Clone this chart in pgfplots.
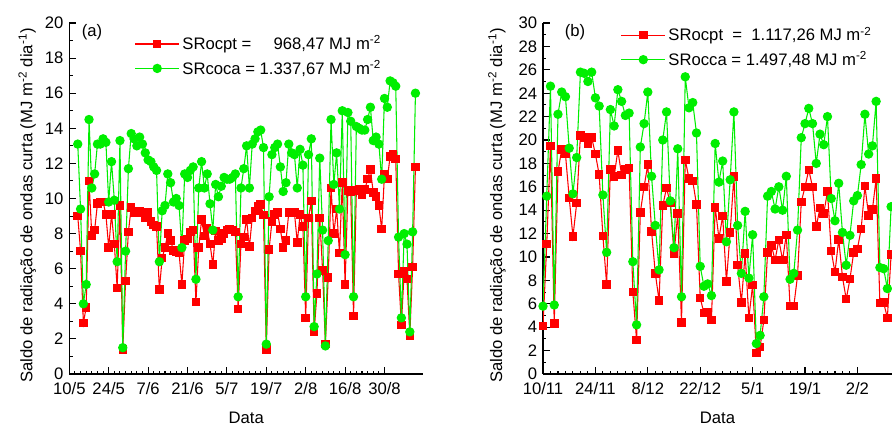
\documentclass[border=0pt]{standalone}
\usepackage{fontspec}
\setmainfont{Liberation Sans}
\usepackage{pgfplots}
\pgfplotsset{compat=1.18}
\usepackage{calc}

\definecolor{srred}{HTML}{FF0000}
\definecolor{srgreen}{HTML}{00EE00}

% (a) maio-setembro, dias desde 10/5
\pgfplotstableread{
d cpt coca
3 9.0 13.1
4 7.0 9.4
5 2.9 4.0
6 3.8 5.1
7 11.0 14.5
8 7.9 10.6
9 8.2 11.4
10 9.7 13.1
11 9.8 13.1
12 9.8 13.4
13 9.1 13.2
14 7.2 9.8
15 9.1 12.1
16 7.4 9.9
17 4.9 6.4
18 9.6 13.3
19 1.4 1.5
20 5.3 7.0
21 8.1 11.7
22 9.5 13.7
23 9.2 13.4
24 9.3 13.0
25 9.3 13.5
26 9.2 13.1
27 8.9 12.6
28 9.2 12.2
29 8.7 12.1
30 8.5 11.8
31 8.4 11.6
32 4.8 6.4
33 6.6 9.3
34 7.2 9.6
35 8.0 11.4
36 7.6 10.9
37 7.05 9.8
38 6.96 10.0
39 6.9 9.6
40 5.1 7.2
41 7.6 11.4
42 7.7 11.2
43 8.1 11.6
44 8.2 11.8
45 4.1 5.4
46 7.2 10.6
47 8.8 12.1
48 7.85 10.6
49 8.3 11.4
50 7.4 9.7
51 6.25 8.2
52 8.15 10.8
53 7.6 10.1
54 7.7 10.7
55 8.0 11.2
56 8.2 11.1
57 8.25 11.1
58 8.2 11.2
59 8.1 11.4
60 3.7 4.4
61 7.4 10.6
62 7.8 11.7
63 8.8 13.0
64 7.25 10.6
65 8.9 13.1
66 9.3 13.4
67 9.55 13.8
68 9.65 13.9
69 9.07 12.9
70 1.4 1.7
71 7.1 10.1
72 8.7 12.5
73 9.1 12.9
74 9.2 13.1
75 8.25 11.8
76 7.2 10.4
77 7.6 10.9
78 9.2 13.1
79 9.2 12.6
80 9.2 12.5
81 7.5 10.6
82 9.1 12.8
83 8.4 11.9
84 3.2 4.4
85 8.9 12.5
86 9.85 13.4
87 2.4 2.7
88 4.6 5.7
89 8.9 12.3
90 5.9 8.2
91 1.7 1.6
92 5.5 7.6
93 10.6 14.5
94 8.0 10.8
95 9.4 12.6
96 6.9 9.4
97 10.9 15.0
98 5.1 6.8
99 10.45 14.9
100 10.4 14.4
101 3.3 4.4
102 10.45 14.1
103 10.5 14.0
104 10.2 13.9
105 10.5 13.9
106 11.1 14.5
107 11.65 15.2
108 10.35 13.3
109 10.1 13.5
110 9.6 13.1
111 8.25 11.1
112 11.4 15.7
113 11.1 15.2
114 12.4 16.7
115 12.5 16.6
116 12.25 16.4
117 5.7 7.8
118 2.8 3.2
119 5.85 8.0
120 5.4 7.4
121 2.2 2.4
122 6.1 8.1
123 11.8 16.0
}\dadosA

% (b) novembro-fevereiro, dias desde 10/11
\pgfplotstableread{
d cpt occa
0 4.1 5.8
1 11.1 15.2
2 19.5 24.6
3 4.3 5.9
4 17.3 22.2
5 19.2 24.1
6 18.8 23.7
7 15.05 19.3
8 11.75 15.4
9 14.6 18.5
10 20.4 25.8
11 20.2 25.7
12 19.7 25.0
13 20.2 25.8
14 18.8 23.6
15 17.05 22.9
16 11.8 15.3
17 7.65 10.4
18 17.5 22.6
19 16.9 21.2
20 19.1 24.3
21 17.0 23.3
22 17.5 22.1
23 17.6 22.3
24 7.0 9.6
25 2.9 4.2
26 13.8 19.4
27 16.0 21.4
28 17.9 24.1
29 12.2 16.9
30 8.6 12.7
31 6.3 8.9
32 14.4 20.0
33 15.9 22.4
34 14.6 14.8
35 10.3 10.8
36 13.7 19.25
37 4.4 6.6
38 18.3 25.4
39 16.7 22.75
40 16.5 23.2
41 14.5 20.6
42 6.5 9.2
43 5.2 7.5
44 5.3 7.7
45 4.6 6.7
46 14.25 19.7
47 11.6 16.4
48 13.5 18.2
49 7.9 11.3
50 12.1 16.6
51 16.9 22.4
52 9.3 12.7
53 6.1 8.6
54 10.3 13.9
55 4.8 8.2
56 7.6 11.9
57 1.8 2.6
58 2.3 3.3
59 4.6 6.6
60 10.4 15.2
61 11.0 15.6
62 9.75 14.1
63 11.45 16.0
64 9.75 14.0
65 11.9 16.9
66 5.8 8.1
67 5.8 8.6
68 8.4 12.3
69 14.7 20.2
70 16.0 21.4
71 17.45 22.7
72 16.0 21.4
73 12.6 18.0
74 14.2 20.5
75 13.7 19.6
76 15.6 22.0
77 10.5 15.0
78 8.7 13.1
79 11.5 16.3
80 8.3 12.1
81 6.4 9.3
82 8.1 11.85
83 10.4 14.8
84 10.7 15.25
85 12.4 17.9
86 16.05 22.2
87 13.55 18.8
88 14.05 19.5
89 16.7 23.3
90 6.05 9.1
91 6.1 9.0
92 4.8 7.3
93 10.2 14.3
}\dadosB

\pgfplotsset{
  painel/.style={
    scale only axis,
    height=263.25pt,
    anchor=south west,
    ymin=0,
    axis x line*=bottom,
    axis y line*=left,
    axis line style={-, line width=0.8pt},
    tick align=inside,
    tick style={black, line width=0.8pt},
    major tick length=5pt,
    minor tick length=2.6pt,
    minor x tick num=6,
    minor y tick num=1,
    /pgf/number format/assume math mode=true,
    xticklabel style={yshift=-2pt},
    xlabel={Data},
    ylabel={Saldo de radia\c{c}\~ao de ondas curta (MJ m\textsuperscript{-2} dia\textsuperscript{-1})},
    xlabel style={at={(axis description cs:0.5,-0.125)}, anchor=center},
    legend style={draw=none, fill=none, inner sep=0pt, row sep=2pt,
      nodes={inner sep=2pt}},
    legend cell align=left,
    legend image code/.code={
      \draw[mark repeat=2, mark phase=2] plot coordinates {(0pt,0pt) (16.5pt,0pt) (33pt,0pt)};
    },
  },
  serieR/.style={color=srred, line width=0.8pt, mark=square*, mark size=2.8pt},
  serieG/.style={color=srgreen, line width=0.8pt, mark=*, mark size=3.1pt},
}

\begin{document}
\fontsize{12.5}{15}\selectfont
\begin{tikzpicture}
\useasboundingbox (0pt,0pt) rectangle (669pt,321pt);

\begin{axis}[
  painel,
  at={(51.98pt,40.5pt)},
  width=265.3pt,
  xmin=0, xmax=125.7,
  ymax=20,
  ytick={0,2,...,20},
  xtick={0,14,...,112},
  xticklabels={10/5,24/5,7/6,21/6,5/7,19/7,2/8,16/8,30/8},
  ylabel style={at={(axis description cs:-0.119,0.48)}, anchor=center},
  legend style={at={(axis description cs:0.184,0.972)}, anchor=north west},
]
\addplot[serieR] table[x=d, y=cpt] {\dadosA};
\addlegendentry{\makebox[\widthof{SRcoca = 1.337,67}][l]{SRocpt =\hfill 968,47} MJ m\textsuperscript{-2}}
\addplot[serieG] table[x=d, y=coca] {\dadosA};
\addlegendentry{SRcoca = 1.337,67 MJ m\textsuperscript{-2}}
\node[anchor=center] at (axis description cs:0.064,0.974) {(a)};
\end{axis}

\begin{axis}[
  painel,
  at={(407.25pt,40.5pt)},
  width=261.75pt,
  xmin=0, xmax=93.24,
  ymax=30,
  ytick={0,2,...,30},
  xtick={0,14,...,84},
  xticklabels={10/11,24/11,8/12,22/12,5/1,19/1,2/2},
  ylabel style={at={(axis description cs:-0.132,0.48)}, anchor=center},
  legend style={at={(axis description cs:0.222,0.997)}, anchor=north west},
]
\addplot[serieR] table[x=d, y=cpt] {\dadosB};
\addlegendentry{SRocpt\ \ =\ \ 1.117,26 MJ m\textsuperscript{-2}}
\addplot[serieG] table[x=d, y=occa] {\dadosB};
\addlegendentry{SRocca = 1.497,48 MJ m\textsuperscript{-2}}
\node[anchor=center] at (axis description cs:0.092,0.974) {(b)};
\end{axis}
\end{tikzpicture}
\end{document}
